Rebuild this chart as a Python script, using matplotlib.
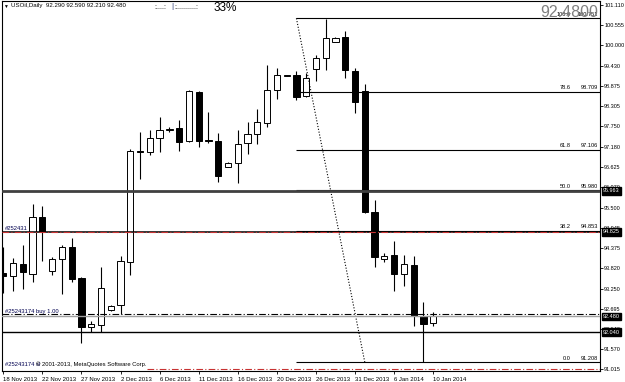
import matplotlib
matplotlib.use("Agg")
import matplotlib.pyplot as plt

plt.rcParams['font.family'] = ['Liberation Sans', 'DejaVu Sans']

# ---- data ----
dates = ["18 Nov 2013", "19 Nov", "20 Nov", "21 Nov", "22 Nov 2013", "24 Nov", "25 Nov", "26 Nov",
         "27 Nov 2013", "28 Nov", "29 Nov", "1 Dec", "2 Dec 2013", "3 Dec", "4 Dec", "5 Dec",
         "6 Dec 2013", "8 Dec", "9 Dec", "10 Dec", "11 Dec 2013", "12 Dec", "13 Dec", "15 Dec",
         "16 Dec 2013", "17 Dec", "18 Dec", "19 Dec", "20 Dec 2013", "22 Dec", "23 Dec", "24 Dec",
         "26 Dec 2013", "27 Dec", "29 Dec", "30 Dec", "31 Dec 2013", "2 Jan", "3 Jan", "5 Jan",
         "6 Jan 2014", "7 Jan", "8 Jan", "9 Jan", "10 Jan 2014"]
opens = [93.69, 93.60, 93.94, 93.67, 95.23, 93.73, 94.07, 94.42, 93.56, 92.18, 92.23, 92.66,
         92.79, 94.00, 97.07, 97.03, 97.42, 97.66, 97.70, 97.35, 98.71, 97.38, 97.35, 96.63,
         96.73, 97.28, 97.53, 97.84, 98.75, 99.16, 99.18, 98.60, 99.35, 99.64, 100.10, 100.22,
         99.29, 98.73, 95.37, 94.07, 94.19, 93.66, 93.91, 92.49, 92.29]
highs = [94.41, 94.11, 94.45, 95.60, 95.54, 94.14, 94.46, 94.65, 93.58, 92.35, 93.86, 92.80,
         94.16, 97.12, 97.60, 97.65, 98.02, 97.73, 97.93, 98.76, 98.73, 98.14, 97.58, 96.77,
         97.65, 97.87, 98.23, 99.46, 99.36, 99.18, 99.29, 99.24, 99.73, 100.72, 100.24, 100.40,
         99.36, 98.92, 95.71, 94.23, 94.57, 94.19, 94.16, 92.89, 92.59]
lows = [93.13, 93.19, 93.24, 93.44, 94.03, 93.63, 93.09, 93.44, 91.74, 92.06, 92.06, 92.64,
        92.55, 93.63, 96.28, 96.96, 97.05, 97.61, 97.08, 97.32, 97.19, 97.28, 96.22, 96.62,
        96.17, 96.98, 97.26, 97.74, 98.51, 99.14, 98.48, 98.58, 99.01, 99.32, 100.10, 99.09,
        98.13, 95.34, 93.84, 94.00, 93.19, 93.33, 92.22, 91.21, 92.21]
closes = [93.60, 93.95, 93.71, 95.25, 94.83, 94.07, 94.41, 93.53, 92.18, 92.27, 93.26, 92.78,
          94.03, 97.08, 97.05, 97.44, 97.65, 97.68, 97.33, 98.73, 97.35, 97.36, 96.38, 96.73,
          97.26, 97.53, 97.87, 98.75, 99.17, 99.17, 98.58, 99.10, 99.66, 100.20, 100.20, 99.32,
          98.44, 95.39, 94.14, 94.16, 93.66, 93.94, 92.49, 92.27, 92.48]

price_ticks = [101.110, 100.555, 100.000, 99.430, 98.875, 98.305, 97.750, 97.180, 96.625, 96.070,
               95.500, 94.945, 94.375, 93.820, 93.250, 92.695, 92.140, 91.570, 91.015]
fib_names = ["100.0", "78.6", "61.8", "50.0", "38.2", "0.0"]
fib_prices = [100.751, 98.709, 97.106, 95.980, 94.853, 91.208]
fib_start, fib_end = 30, 37
hline_boxes = [95.963, 94.825, 92.480, 92.040]
order_open = 92.54
stop_loss = 91.015
bid = 92.480
title = "USOil,Daily  92.290 92.590 92.210 92.480"

W, H = 625, 382
fig = plt.figure(figsize=(W / 100, H / 100), dpi=100)
ax = fig.add_axes([2 / W, (H - 371) / H, 598 / W, 370 / H])
ax.set_xlim(-0.13, 61.07)
ax.set_ylim(90.967, 101.230)

def ftxt(px, py, s, **kw):
    return fig.text(px / W, 1 - py / H, s, **kw)

n = len(opens)
xs = list(range(n))
# candles
ax.vlines(xs, lows, highs, color='black', lw=0.8, zorder=2)
for i in xs:
    o, c = opens[i], closes[i]
    bull = c >= o
    h = max(abs(c - o), 0.02)
    ax.bar(i, h, bottom=min(o, c), width=0.64, color='white' if bull else 'black',
           edgecolor='black', lw=0.7, zorder=3)

xr = 61.07
# fib levels
ax.hlines(fib_prices, fib_start, xr, color='black', lw=0.8, zorder=4)
ax.plot([fib_start, fib_end], [fib_prices[0], fib_prices[-1]], color='black', lw=0.8,
        ls=(0, (1, 1.6)), zorder=4)
for nm, pr in zip(fib_names, fib_prices):
    ax.text(58.1, pr + 0.04, nm, fontsize=4.1, ha='right', va='bottom', zorder=5)
    ax.text(60.9, pr + 0.04, f"{pr:.3f}", fontsize=4.1, ha='right', va='bottom', zorder=5)

# horizontal lines
ax.axhline(hline_boxes[0], color='#404040', lw=2.0, zorder=4)
ax.axhline(hline_boxes[1], color='black', lw=1.1, zorder=4)
ax.axhline(hline_boxes[1], color='#c83232', lw=0.8, ls=(0, (6, 2, 1, 2)), zorder=5)
ax.axhline(order_open, color='black', lw=0.8, ls=(0, (6, 2, 1, 2)), zorder=4)
ax.axhline(bid, color='#a0a0a0', lw=1.0, zorder=4)
ax.axhline(hline_boxes[3], color='black', lw=1.0, zorder=4)
ax.hlines(stop_loss, 14.7, xr, color='#c83232', lw=0.8, linestyles=[(0, (6, 2, 1, 2))], zorder=4)

# axes styling
for s in ax.spines.values():
    s.set_color('black')
    s.set_linewidth(0.8)
ax.yaxis.tick_right()
ax.set_yticks(price_ticks)
ax.set_yticklabels([f"{p:.3f}" for p in price_ticks])
ax.tick_params(axis='y', length=2.2, width=0.6, labelsize=4.0, pad=0.8)
tick_idx = list(range(0, n, 4))
ax.set_xticks(tick_idx)
ax.set_xticklabels([dates[i] for i in tick_idx], ha='left')
ax.tick_params(axis='x', length=2.5, width=0.6, labelsize=4.3, pad=1.5)

# texts
ftxt(3, 6, "▼", fontsize=3.5, va='center', ha='left')
ftxt(11, 6, title, fontsize=4.4, va='center', ha='left')
ftxt(154, 7.5, ":....:", fontsize=5, va='center', ha='left')
ftxt(171, 7, "|", fontsize=6, va='center', ha='left', color='#203070')
ftxt(174, 7.5, ":..........:", fontsize=5, va='center', ha='left')
ftxt(214, 8, "33%", fontsize=8.5, va='center', ha='left')
ftxt(598, 12.5, "92.4800", fontsize=11.5, va='center', ha='right', color='#808080', zorder=10)
ftxt(5, 228.5, "#252431", fontsize=4.2, va='center', ha='left', color='#000050')
ftxt(5, 311.5, "#25243174 buy 1.00", fontsize=4.2, va='center', ha='left', color='#000050')
ftxt(5, 364.5, "#25243174 sl", fontsize=4.2, va='center', ha='left', color='#000050')
ftxt(36, 364.5, "© 2001-2013, MetaQuotes Software Corp.", fontsize=4.2, va='center', ha='left')

for p in hline_boxes:
    ax.annotate(f"{p:.3f}", xy=(1.0, p), xycoords=('axes fraction', 'data'),
                xytext=(2.2, 0), textcoords='offset points', fontsize=4.0, color='white',
                va='center', ha='left', annotation_clip=False, zorder=10,
                bbox=dict(boxstyle='square,pad=0.25', fc='black', ec='black'))

fig.savefig("out.png", dpi=100)
